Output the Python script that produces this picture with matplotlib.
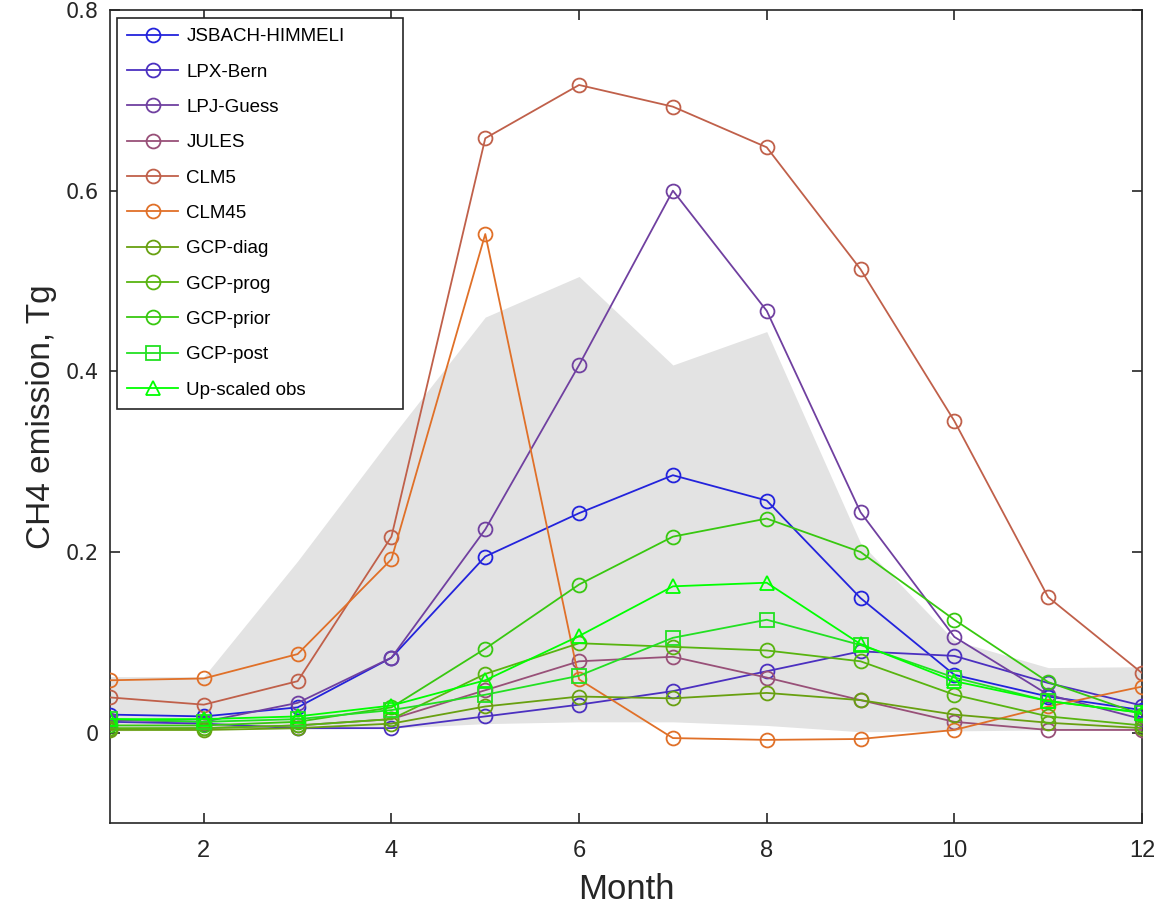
import numpy as np
import matplotlib
matplotlib.use("Agg")
import matplotlib.pyplot as plt

plt.rcParams["font.family"] = ["Liberation Sans", "DejaVu Sans"]

months = np.arange(1, 13)

# model / obs monthly CH4 emissions (Tg)
names = ["JSBACH-HIMMELI", "LPX-Bern", "LPJ-Guess", "JULES", "CLM5", "CLM45",
         "GCP-diag", "GCP-prog", "GCP-prior", "GCP-post", "Up-scaled obs"]
jsbach = [0.020, 0.018, 0.028, 0.083, 0.195, 0.243, 0.285, 0.257, 0.149, 0.064, 0.040, 0.025]
lpx = [0.012, 0.010, 0.005, 0.005, 0.018, 0.031, 0.046, 0.068, 0.090, 0.085, 0.055, 0.030]
lpj = [0.014, 0.012, 0.033, 0.083, 0.225, 0.407, 0.600, 0.467, 0.244, 0.106, 0.042, 0.015]
jules = [0.004, 0.005, 0.008, 0.015, 0.047, 0.079, 0.084, 0.061, 0.036, 0.012, 0.003, 0.003]
clm5 = [0.039, 0.031, 0.057, 0.217, 0.658, 0.717, 0.693, 0.648, 0.513, 0.345, 0.150, 0.066]
clm45 = [0.058, 0.060, 0.087, 0.192, 0.552, 0.059, -0.006, -0.008, -0.007, 0.003, 0.029, 0.051]
gcp_diag = [0.003, 0.003, 0.005, 0.010, 0.029, 0.040, 0.038, 0.044, 0.036, 0.020, 0.011, 0.005]
gcp_prog = [0.005, 0.005, 0.008, 0.015, 0.065, 0.099, 0.095, 0.091, 0.079, 0.042, 0.018, 0.008]
gcp_prior = [0.008, 0.008, 0.012, 0.028, 0.093, 0.164, 0.217, 0.237, 0.200, 0.125, 0.056, 0.020]
gcp_post = [0.015, 0.012, 0.015, 0.025, 0.042, 0.063, 0.105, 0.125, 0.097, 0.061, 0.035, 0.022]
upscaled = [0.015, 0.015, 0.018, 0.030, 0.058, 0.107, 0.162, 0.166, 0.098, 0.057, 0.035, 0.022]
series = [jsbach, lpx, lpj, jules, clm5, clm45, gcp_diag, gcp_prog, gcp_prior, gcp_post, upscaled]

# grey envelope
band_lo = [0.002, 0.003, 0.004, 0.005, 0.010, 0.012, 0.012, 0.008, 0.001, 0.002, 0.003, 0.005]
band_hi = [0.062, 0.062, 0.190, 0.327, 0.460, 0.505, 0.407, 0.444, 0.210, 0.102, 0.072, 0.073]

colors = ["#2323dc", "#4b30c0", "#7040a0", "#985078", "#c0604a", "#e07028",
          "#68a010", "#58b410", "#38c810", "#22e022", "#00ff00"]
markers = ["o"] * 9 + ["s", "^"]

fig = plt.figure(figsize=(11.57, 9.10), dpi=100)
ax = fig.add_axes([110/1157, 1 - 823/910, 1032/1157, 813/910])

ax.fill_between(months, band_lo, band_hi, color="#e3e3e3", lw=0, zorder=1)

for nm, ys, c, m in zip(names, series, colors, markers):
    ax.plot(months, ys, color=c, marker=m, ms=10, mfc="none", mec=c, mew=1.3,
            lw=1.3, label=nm, zorder=3)

ax.set_xlim(1, 12)
ax.set_ylim(-0.1, 0.8)
ax.set_xticks([2, 4, 6, 8, 10, 12])
ax.set_yticks([0, 0.2, 0.4, 0.6, 0.8])
ax.set_yticklabels(["0", "0.2", "0.4", "0.6", "0.8"], family="DejaVu Sans", fontsize=15)
for lab in ax.get_xticklabels():
    lab.set_fontsize(17)
ax.tick_params(direction="in", length=7, width=1.2, top=True, right=True,
               colors="#262626", labelcolor="#262626", pad=8)
ax.tick_params(axis="x", pad=12)
for sp in ax.spines.values():
    sp.set_color("#262626")
    sp.set_linewidth(1.2)

ax.set_xlabel("Month", fontsize=25, color="#262626", labelpad=8)
ax.set_ylabel("CH4 emission, Tg", fontsize=24, color="#262626", labelpad=6)

leg = ax.legend(loc="upper left", bbox_to_anchor=(0.0068, 0.15, 0.2771, 0.8402),
                mode="expand", fontsize=13.5, frameon=True, fancybox=False,
                edgecolor="#262626", framealpha=1, borderaxespad=0,
                handlelength=2.7, handletextpad=0.45, labelspacing=0.97,
                borderpad=0.55)
leg.get_frame().set_linewidth(1.2)

fig.savefig("out.png", dpi=100)
